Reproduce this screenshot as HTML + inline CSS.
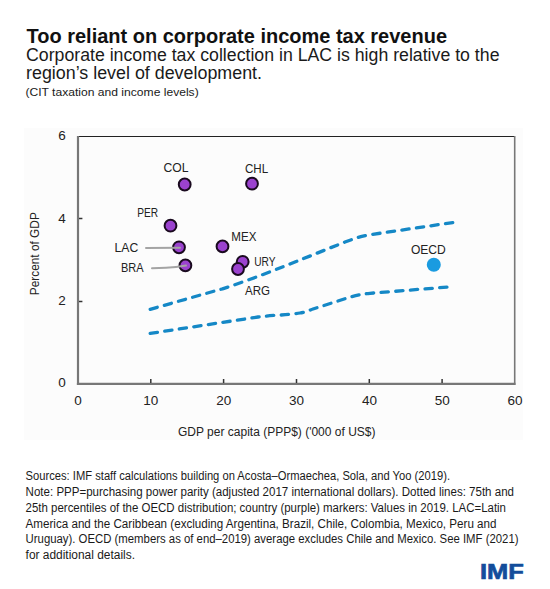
<!DOCTYPE html>
<html><head><meta charset="utf-8">
<style>
html,body{margin:0;padding:0;background:#fff;}
body{width:550px;height:589px;overflow:hidden;}
svg{display:block;}
text{font-family:"Liberation Sans",sans-serif;}
</style></head>
<body>
<svg width="550" height="589" viewBox="0 0 550 589">
<rect x="0" y="0" width="550" height="589" fill="#ffffff"/>
<rect x="24" y="128" width="499" height="312" fill="#fcfcfc"/>

<!-- titles -->
<text x="26.5" y="43.4" font-size="19.6" font-weight="bold" fill="#111" textLength="420.5" lengthAdjust="spacingAndGlyphs">Too reliant on corporate income tax revenue</text>
<text x="26" y="61.2" font-size="17.5" fill="#1a1a1a" textLength="473.5" lengthAdjust="spacingAndGlyphs">Corporate income tax collection in LAC is high relative to the</text>
<text x="26" y="79.2" font-size="17.5" fill="#1a1a1a" textLength="236" lengthAdjust="spacingAndGlyphs">region’s level of development.</text>
<text x="25.4" y="95.8" font-size="11.8" fill="#1a1a1a" textLength="173.3" lengthAdjust="spacingAndGlyphs">(CIT taxation and income levels)</text>

<!-- axes -->
<line x1="78" y1="136.5" x2="514.5" y2="136.5" stroke="#222" stroke-width="1.2"/>
<line x1="78" y1="136" x2="78" y2="384.9" stroke="#777" stroke-width="2.2"/>
<line x1="76.9" y1="383.8" x2="515.5" y2="383.8" stroke="#777" stroke-width="2.2"/>
<line x1="514.7" y1="136" x2="514.7" y2="384.9" stroke="#777" stroke-width="1.6"/>
<!-- ticks -->
<g stroke="#333" stroke-width="1.5">
<line x1="79" y1="218.5" x2="82.4" y2="218.5"/>
<line x1="79" y1="301.5" x2="82.4" y2="301.5"/>
<line x1="150.8" y1="379" x2="150.8" y2="383"/>
<line x1="223.6" y1="379" x2="223.6" y2="383"/>
<line x1="296.5" y1="379" x2="296.5" y2="383"/>
<line x1="369.3" y1="379" x2="369.3" y2="383"/>
<line x1="442.1" y1="379" x2="442.1" y2="383"/>
</g>
<g font-size="13.5" fill="#222" text-anchor="middle">
<text x="62" y="140">6</text>
<text x="62" y="222.6">4</text>
<text x="62" y="305.4">2</text>
<text x="62" y="387.4">0</text>
<text x="78" y="404.7">0</text>
<text x="150.8" y="404.7">10</text>
<text x="223.7" y="404.7">20</text>
<text x="296.6" y="404.7">30</text>
<text x="369.4" y="404.7">40</text>
<text x="442.2" y="404.7">50</text>
<text x="515" y="404.7">60</text>
</g>
<text x="178" y="436.4" font-size="12.5" fill="#222" textLength="197.5" lengthAdjust="spacingAndGlyphs">GDP per capita (PPP$) ('000 of US$)</text>
<text transform="translate(39.3,295.2) rotate(-90)" font-size="13" fill="#222" textLength="83" lengthAdjust="spacingAndGlyphs">Percent of GDP</text>

<!-- dashed lines -->
<g fill="none" stroke="#1588c6" stroke-width="3.3" stroke-dasharray="7.3 7.4" stroke-linecap="round">
<path d="M150.2,309.3 L222.5,288.8 C250,280 280,268 300,260 L345,242 C352,239.5 358,237 368,235 L454,222.4"/>
<path d="M150.2,333.4 L258,317 C272,315 288,315.2 300,313 C306,312 310,310 313,309 L341,300 C350,297 358,294.5 370,293.3 L448.5,287"/>
</g>

<!-- LAC/BRA connectors -->
<g stroke="#aaa" stroke-width="1.6" fill="none">
</g>

<!-- dots -->
<g stroke="#1a0a1f" stroke-width="2" fill="#9b42cf">
<circle cx="184.7" cy="184.5" r="5.9"/>
<circle cx="252" cy="183.7" r="5.9"/>
<circle cx="170.5" cy="225.7" r="5.9"/>
<circle cx="179" cy="247.3" r="5.9"/>
<circle cx="185.4" cy="265.4" r="5.9"/>
<circle cx="222.5" cy="246.4" r="5.9"/>
<circle cx="242.7" cy="261.8" r="5.9"/>
<circle cx="238" cy="269" r="5.9"/>
</g>
<g stroke="#a4a4a4" stroke-width="2" fill="none" stroke-linecap="round">
<path d="M146,248 L180,247.8"/>
<path d="M152,268.2 L166,267.8 Q176,267.3 186,265.6"/>
</g>
<circle cx="433.8" cy="264.8" r="7" fill="#1a9be0"/>

<!-- labels -->
<g font-size="13" fill="#222">
<text x="163.5" y="172" textLength="25" lengthAdjust="spacingAndGlyphs">COL</text>
<text x="245" y="173.2" textLength="23.2" lengthAdjust="spacingAndGlyphs">CHL</text>
<text x="137.3" y="216.9" textLength="20.9" lengthAdjust="spacingAndGlyphs">PER</text>
<text x="114.5" y="251.8" textLength="23.7" lengthAdjust="spacingAndGlyphs">LAC</text>
<text x="121" y="271.5" textLength="22.6" lengthAdjust="spacingAndGlyphs">BRA</text>
<text x="231.3" y="240.9" textLength="25.1" lengthAdjust="spacingAndGlyphs">MEX</text>
<text x="254.2" y="266.4" textLength="21.3" lengthAdjust="spacingAndGlyphs">URY</text>
<text x="245" y="294.5" textLength="25" lengthAdjust="spacingAndGlyphs">ARG</text>
<text x="410.9" y="253.6" textLength="34.9" lengthAdjust="spacingAndGlyphs">OECD</text>
</g>

<!-- notes -->
<g font-size="12" fill="#1a1a1a">
<text x="25.6" y="479.7" textLength="424.4" lengthAdjust="spacingAndGlyphs">Sources: IMF staff calculations building on Acosta–Ormaechea, Sola, and Yoo (2019).</text>
<text x="25.6" y="495.7" textLength="488.4" lengthAdjust="spacingAndGlyphs">Note: PPP=purchasing power parity (adjusted 2017 international dollars). Dotted lines: 75th and</text>
<text x="25.6" y="511.5" textLength="480.4" lengthAdjust="spacingAndGlyphs">25th percentiles of the OECD distribution; country (purple) markers: Values in 2019. LAC=Latin</text>
<text x="25.6" y="527.5" textLength="470.9" lengthAdjust="spacingAndGlyphs">America and the Caribbean (excluding Argentina, Brazil, Chile, Colombia, Mexico, Peru and</text>
<text x="25.6" y="543.3" textLength="492.9" lengthAdjust="spacingAndGlyphs">Uruguay). OECD (members as of end–2019) average excludes Chile and Mexico. See IMF (2021)</text>
<text x="25.6" y="559.2" textLength="109.4" lengthAdjust="spacingAndGlyphs">for additional details.</text>
</g>

<!-- IMF logo -->
<text x="480" y="579" font-size="22.6" font-weight="bold" fill="#124d9b" stroke="#124d9b" stroke-width="0.7" textLength="43.8" lengthAdjust="spacingAndGlyphs">IMF</text>
</svg>
</body></html>
